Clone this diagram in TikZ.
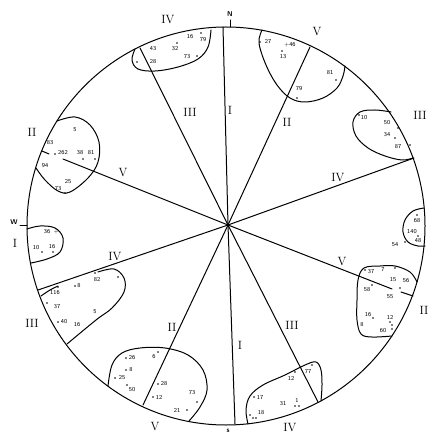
\documentclass[tikz,border=0pt]{standalone}
\begin{document}
\begin{tikzpicture}[x=1pt,y=-1pt,line width=1pt,line join=round,line cap=round,
  num/.style={font=\fontsize{6}{6}\selectfont\sffamily,inner sep=0pt},
  lab/.style={font=\fontsize{12}{12}\selectfont,inner sep=0pt},
  dir/.style={font=\fontsize{7}{7}\selectfont\sffamily\bfseries,inner sep=0pt},
  dotm/.style={fill,circle,inner sep=0pt,minimum size=1.6pt},
  blob/.style={line width=1pt}]
\useasboundingbox (0,0) rectangle (431,435);
\fill[white] (0,0) rectangle (431,435);
\coordinate (C) at (226,226);
\coordinate (O) at (228,225);
\draw (C) circle[radius=199pt];
% ray end points
\coordinate (r1) at (223,27);
\coordinate (r2) at (310,47);
\coordinate (r3) at (140,48);
\coordinate (r4) at (414,158);
\coordinate (r5) at (63,159);
\coordinate (r5a) at (49,154);
\coordinate (r5b) at (42,151);
\coordinate (r6) at (392,289);
\coordinate (r6a) at (401,292);
\coordinate (r6b) at (413,296);
\coordinate (r7) at (38,290);
\coordinate (r8) at (143,405);
\coordinate (r9) at (235,424);
\coordinate (r10) at (318,402);
\foreach \r in {r1,r2,r3,r4,r5,r6,r7,r8,r9,r10} \draw (O) -- (\r);
\draw (r5a) -- (r5b);
\draw (r6a) -- (r6b);
% blobs
\draw[blob] plot[smooth,tension=0.6] coordinates {(135,49) (132,60) (138,69) (155,71) (178,67) (198,59) (208,47) (211,30)};
\draw[blob] plot[smooth,tension=0.6] coordinates {(262,30) (259,43) (266,65) (277,85) (290,98) (305,102) (323,98) (337,88) (343,76) (345,66)};
\draw[blob] plot[smooth,tension=0.6] coordinates {(391,112) (375,110) (360,112) (353,122) (356,136) (368,148) (385,156) (402,160) (413,158)};
\draw[blob] plot[smooth,tension=0.6] coordinates {(424,208) (413,211) (405,220) (403,232) (408,242) (418,246) (425,246)};
\draw[blob] plot[smooth,tension=0.6] coordinates {(417,282) (410,272) (395,266) (380,266) (364,268) (358,280) (357,300) (357,320) (361,334) (372,337) (392,336)};
\draw[blob] plot[smooth,tension=0.6] coordinates {(248,424) (246,410) (250,396) (263,385) (285,375) (305,365) (316,362) (321,370) (322,385) (321,401)};
\draw[blob] plot[smooth,tension=0.6] coordinates {(108,386) (112,365) (122,353) (140,348) (165,348) (188,355) (203,370) (207,390) (200,407) (189,421)};
\draw[blob] plot[smooth,tension=0.6] coordinates {(98,272) (114,269) (124,278) (124,292) (112,308) (96,320) (67,344)};
\draw[blob] plot[smooth,tension=0.6] coordinates {(41,296) (50,290) (58,286)};
\draw[blob] plot[smooth,tension=0.6] coordinates {(27,229) (40,226) (55,228) (63,238) (60,252) (47,259) (31,263)};
\draw[blob] plot[smooth,tension=0.6] coordinates {(57,121) (75,117) (90,125) (99,142) (98,162) (88,178) (70,192) (58,191) (45,180) (36,168)};
% compass ticks
\coordinate (tN) at (230,20);
\coordinate (tNb) at (230,27);
\draw (tN) -- (tNb);
\node[dir] (N) at (230,14) {N};
\coordinate (tW) at (20,225);
\coordinate (tWb) at (27,225);
\draw (tW) -- (tWb);
\node[dir] (W) at (14,222) {W};
\node[dir] (S) at (228,431) {s};
% roman numeral labels
\foreach \x/\y/\t [count=\i] in {168/20/IV,317/32/V,420/115/III,424/310/II,290/428/IV,155/427/V,32/323/III,15/243/I,32/132/II,
  230/110/I,287/122/II,190/112/III,338/178/IV,123/173/V,342/262/V,115/257/IV,172/327/II,240/345/I,292/325/III}
  \node[lab] (L\i) at (\x,\y) {\t};
% numbers
\foreach \x/\y/\t [count=\i] in {153/49/43,153/62/28,175/49/32,190/37/16,203/40/79,187/57/73,
  268/42/27,290/45/+46,283/57/13,330/73/81,299/89/79,
  364/118/10,387/123/50,387/135/34,398/147/87,
  417/221/68,412/232/140,418/241/48,395/245/54,
  371/272/37,383/270/7,393/280/15,406/281/56,367/290/58,390/297/55,368/315/16,390/317/12,362/325/8,383/331/60,
  291/378/12,308/372/77,260/397/17,283/404/31,297/400/1,261/413/18,
  132/358/26,131/370/8,154/357/6,122/378/25,132/390/50,164/384/28,159/397/12,192/393/73,177/410/21,
  55/293/116,79/286/8,97/280/82,57/307/37,95/312/5,64/322/40,77/325/16,
  47/232/36,56/232/+,36/248/10,52/247/16,
  75/130/5,50/143/83,63/153/262,80/153/38,91/153/81,45/166/94,68/182/25,58/189/73}
  \node[num] (n\i) at (\x,\y) {\t};
% dots
\foreach \x/\y [count=\i] in {137/62,177/43,201/33,197/56,
  260/42,282/51,336/80,297/98,
  359/115,398/128,395/138,410/145,
  417/215,418/236,405/242,
  365/270,395/268,400/288,372/285,373/318,390/322,392/325,392/329,
  295/372,312/365,254/397,295/406,299/406,250/415,253/418,256/418,
  126/358,126/370,158/352,115/378,127/385,158/384,153/397,197/402,187/410,
  58/287,75/286,95/273,118/277,47/303,58/322,
  42/252,53/252,
  55/154,83/159,95/159,65/193}
  \node[dotm] (d\i) at (\x,\y) {};
\end{tikzpicture}
\end{document}
